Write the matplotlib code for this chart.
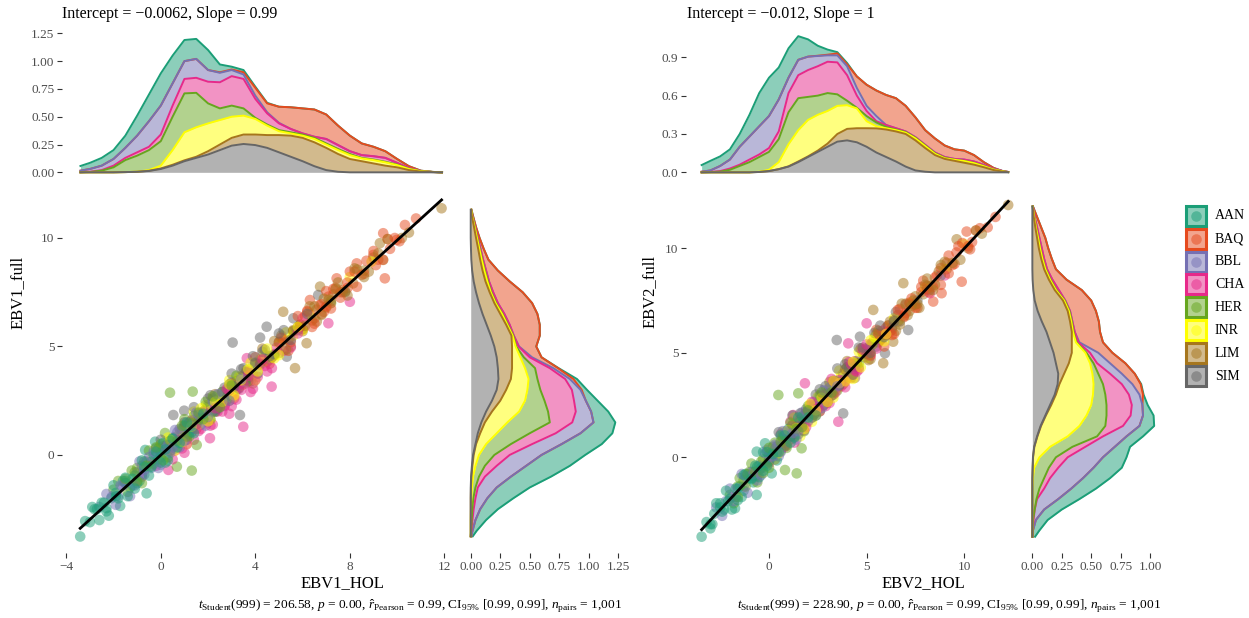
import numpy as np
import matplotlib
matplotlib.use("Agg")
import matplotlib.pyplot as plt
from matplotlib.patches import Rectangle

plt.rcParams["font.family"] = ["Liberation Serif", "DejaVu Serif"]
plt.rcParams["mathtext.fontset"] = "custom"
plt.rcParams["mathtext.rm"] = "Liberation Serif"
plt.rcParams["mathtext.it"] = "Liberation Serif:italic"
plt.rcParams["mathtext.bf"] = "Liberation Serif:bold"

# ---------------------------------------------------------------- breeds
BREEDS = ["AAN", "BAQ", "BBL", "CHA", "HER", "INR", "LIM", "SIM"]
BREED_COLORS = ["#1B9E77", "#E64A1E", "#7570B3", "#E7298A",
                "#66A61E", "#FFFF00", "#A6761D", "#666666"]

# ---------------------------------------------------------------- EBV1 points
AAN_EBV1_HOL = [-3.41, -3.2, -3.0, -2.7, -2.5, -2.3, -2.1, -1.9, -1.72, -1.5, -1.3, -1.1, -0.9,
                -0.66, -0.6, -0.4, -0.24, 0.0, 0.2, 0.4, 0.6, 0.9, 1.2, 1.6, 2.2,
                -2.9, -2.6, -2.4, -2.2, -2.0, -1.8, -1.6, -1.4, -1.2, -1.0, -0.8, -0.5, -0.3, -0.1,
                0.1, 0.3, 0.5, 0.7, 1.0, 1.3,
                -2.8, -2.3, -1.9, -1.5, -1.1, -0.7, -0.4, -0.2, 0.0, 0.2, 0.5, 0.8, 1.1, 1.4, 1.8]
AAN_EBV1_FULL = [-3.76, -3.05, -3.1, -2.5, -2.2, -2.45, -2.0, -1.75, -2.35, -1.3, -1.5, -0.95, -1.2,
                 0.23, -1.77, -0.3, 0.61, 0.1, -0.35, 0.5, 0.3, 0.7, 1.1, 1.8, 2.0,
                 -2.4, -3.0, -2.2, -2.8, -1.4, -2.0, -1.2, -1.9, -1.1, -1.3, -0.25, -0.95, 0.0, -0.2,
                 0.55, -0.25, 0.75, 0.35, 1.35, 1.05,
                 -2.5, -2.6, -1.9, -1.05, -1.55, -0.55, -0.55, 0.15, -0.35, 0.25, 0.75, 0.55, 1.5, 1.0, 1.9]
BAQ_EBV1_HOL = [3.6, 4.3, 4.8, 5.2, 5.6, 5.9, 6.1, 6.31, 6.5, 6.7, 6.9, 7.1, 7.44, 7.6, 7.9,
                8.29, 8.5, 8.99, 9.2, 9.41, 9.48, 9.7, 9.98, 10.33, 10.8,
                4.0, 4.6, 5.0, 5.4, 5.8, 6.0, 6.2, 6.4, 6.6, 6.8, 7.0, 7.2, 7.4, 7.7, 8.0,
                8.3, 8.7, 9.1, 9.6, 10.1,
                5.1, 5.5, 5.9, 6.2, 6.5, 6.8, 7.0, 7.3, 7.6, 7.9, 8.2, 8.6, 9.0, 9.4, 9.9]
BAQ_EBV1_FULL = [3.8, 4.4, 4.6, 5.3, 5.7, 6.0, 6.4, 7.14, 6.3, 6.9, 6.6, 7.3, 8.14, 7.5, 7.7,
                 8.83, 8.3, 9.22, 9.0, 10.22, 8.14, 9.5, 9.91, 10.6, 10.9,
                 4.5, 4.2, 5.2, 4.8, 6.4, 5.8, 6.6, 5.9, 6.7, 6.5, 7.55, 6.75, 7.7, 7.6, 8.45,
                 7.75, 8.95, 8.75, 9.95, 9.85,
                 5.4, 5.2, 5.9, 6.65, 6.05, 6.95, 6.85, 7.65, 7.25, 7.95, 8.45, 8.35, 9.4, 9.0, 10.0]
BBL_EBV1_HOL = [-2.6, -2.07, -1.8, -1.5, -1.2, -1.0, -0.8, -0.6, -0.4, -0.2, 0.0, 0.1, 0.3, 0.5,
                0.7, 0.9, 1.1, 1.4, 1.7, 2.0, 2.4, 2.8, 3.3, 3.9, 4.6,
                -2.3, -1.9, -1.6, -1.3, -0.9, -0.7, -0.5, -0.1, 0.2, 0.4, 0.6, 0.8, 1.0, 1.2,
                1.5, 1.9, 2.2, 2.6, 3.0, 3.6,
                -1.7, -1.1, -0.7, -0.3, 0.0, 0.3, 0.5, 0.7, 1.0, 1.3, 1.6, 2.0, 2.4, 2.9, 3.4]
BBL_EBV1_FULL = [-2.4, -1.92, -1.9, -1.3, -1.4, -0.8, -0.9, -0.3, -0.6, 0.0, -0.1, 0.4, 0.2, 0.8,
                 0.5, 1.2, 0.9, 1.6, 1.4, 2.3, 2.1, 3.0, 3.2, 4.1, 4.4,
                 -1.8, -2.3, -1.4, -1.9, -0.3, -0.9, -0.1, -0.6, 0.3, 0.1, 1.15, 0.35, 1.3, 1.1,
                 1.95, 1.35, 2.45, 2.25, 3.35, 3.35,
                 -1.4, -1.4, -0.7, 0.15, -0.45, 0.45, 0.35, 1.05, 0.65, 1.35, 1.85, 1.75, 2.8, 2.5, 3.5]
CHA_EBV1_HOL = [-0.8, -0.2, 0.32, 0.6, 0.9, 1.2, 1.4, 1.7, 2.0, 2.08, 2.4, 2.7, 2.9, 3.1, 3.3,
                3.49, 3.64, 3.8, 4.1, 4.4, 4.69, 5.2, 6.0, 7.09, 8.0,
                0.2, 0.5, 0.8, 1.0, 1.3, 1.6, 1.9, 2.2, 2.5, 2.6, 2.8, 3.0, 3.2, 3.4, 3.7,
                3.9, 4.2, 4.5, 4.9, 5.5,
                0.7, 1.1, 1.5, 1.8, 2.1, 2.3, 2.7, 2.9, 3.2, 3.5, 3.7, 4.0, 4.3, 4.7, 5.8]
CHA_EBV1_FULL = [-1.0, -0.5, -0.69, 0.2, 0.3, 1.0, 0.7, 1.2, 1.5, 0.77, 2.0, 2.3, 1.9, 2.6, 3.1,
                 1.3, 4.46, 2.9, 3.6, 4.1, 3.15, 4.8, 6.3, 6.07, 7.06,
                 0.4, -0.2, 0.7, 0.1, 1.6, 1.1, 2.0, 1.4, 2.3, 2.0, 3.05, 2.25, 3.2, 3.0, 3.85,
                 3.05, 4.15, 3.85, 4.95, 4.95,
                 0.7, 0.5, 1.2, 1.95, 1.35, 2.15, 2.25, 2.95, 2.55, 3.25, 3.65, 3.45, 4.4, 4.0, 5.6]
HER_EBV1_HOL = [-2.0, -1.5, -1.23, -1.0, -0.7, -0.4, -0.1, 0.18, 0.39, 0.5, 0.68, 0.9, 1.1, 1.31,
                1.35, 1.52, 1.7, 2.0, 2.3, 2.6, 3.0, 3.4, 4.0, 4.8, 5.6,
                -1.8, -1.4, -1.1, -0.8, -0.5, -0.3, 0.0, 0.3, 0.6, 0.8, 1.0, 1.2, 1.4, 1.6,
                1.9, 2.1, 2.4, 2.8, 3.2, 3.7,
                -1.5, -1.0, -0.6, -0.2, 0.1, 0.4, 0.7, 0.9, 1.1, 1.3, 1.6, 1.8, 2.2, 2.5, 3.0]
HER_EBV1_FULL = [-1.6, -1.2, -0.72, -0.6, -0.3, -0.5, 0.3, 1.01, 2.87, 0.4, -0.54, 1.1, 0.9, -0.72,
                 2.92, 0.46, 1.8, 2.2, 2.0, 2.9, 3.2, 3.3, 4.2, 4.6, 5.7,
                 -1.2, -1.7, -0.8, -1.3, 0.2, -0.4, 0.5, -0.1, 0.8, 0.6, 1.65, 0.85, 1.8, 1.6,
                 2.45, 1.65, 2.75, 2.55, 3.65, 3.55,
                 -1.1, -1.2, -0.5, 0.35, -0.25, 0.65, 0.65, 1.35, 0.85, 1.45, 1.95, 1.65, 2.7, 2.2, 3.2]
INR_EBV1_HOL = [-0.5, 0.1, 0.5, 0.8, 1.0, 1.3, 1.5, 1.8, 2.0, 2.3, 2.5, 2.8, 3.0, 3.2, 3.4, 3.6,
                3.9, 4.2, 4.6, 5.0, 5.6, 6.3, 7.2, 8.0, 8.92,
                0.3, 0.6, 0.9, 1.1, 1.4, 1.6, 1.9, 2.1, 2.4, 2.6, 2.9, 3.1, 3.3, 3.5, 3.8,
                4.0, 4.4, 4.8, 5.3, 6.0,
                0.4, 0.9, 1.3, 1.7, 2.0, 2.3, 2.6, 2.9, 3.1, 3.4, 3.7, 4.1, 4.5, 5.0, 5.8]
INR_EBV1_FULL = [-0.3, 0.3, 0.4, 1.0, 0.8, 1.5, 1.2, 2.0, 1.8, 2.5, 2.3, 3.0, 2.7, 3.4, 3.2, 3.9,
                 3.7, 4.4, 4.5, 5.1, 5.5, 6.5, 7.0, 8.2, 8.91,
                 0.8, 0.2, 1.1, 0.5, 2.0, 1.4, 2.3, 1.6, 2.5, 2.3, 3.45, 2.65, 3.6, 3.4, 4.25,
                 3.45, 4.65, 4.45, 5.65, 5.75,
                 0.7, 0.6, 1.3, 2.15, 1.55, 2.45, 2.45, 3.25, 2.75, 3.45, 3.95, 3.85, 4.9, 4.6, 5.9]
LIM_EBV1_HOL = [1.2, 2.0, 2.6, 3.2, 3.6, 4.0, 4.5, 5.0, 5.18, 5.4, 5.68, 5.9, 6.17, 6.4, 6.74,
                7.0, 7.3, 7.7, 8.14, 8.6, 9.0, 9.27, 9.41, 10.2, 11.88,
                2.3, 2.9, 3.4, 3.9, 4.3, 4.7, 5.1, 5.5, 5.8, 6.0, 6.3, 6.6, 6.9, 7.2, 7.5,
                7.9, 8.3, 8.8, 9.6, 10.5,
                3.0, 3.7, 4.2, 4.8, 5.3, 5.6, 6.1, 6.5, 6.8, 7.1, 7.4, 7.8, 8.2, 8.6, 9.2]
LIM_EBV1_FULL = [1.5, 2.2, 2.4, 3.4, 3.3, 4.2, 4.3, 4.7, 6.6, 5.3, 4.0, 6.0, 5.15, 6.2, 7.76,
                 6.8, 7.4, 7.5, 7.91, 8.5, 9.1, 9.76, 8.99, 10.0, 11.37,
                 2.8, 2.5, 3.6, 3.3, 4.9, 4.5, 5.5, 5.0, 5.9, 5.7, 6.85, 6.15, 7.2, 7.1, 7.95,
                 7.35, 8.55, 8.45, 9.95, 10.25,
                 3.3, 3.4, 4.2, 5.25, 4.85, 5.75, 5.95, 6.85, 6.45, 7.15, 7.65, 7.55, 8.6, 8.2, 9.3]
SIM_EBV1_HOL = [-0.8, -0.2, 0.53, 0.99, 1.3, 1.6, 1.9, 2.2, 2.5, 2.7, 3.04, 3.2, 3.35, 3.6, 3.8,
                4.2, 4.48, 4.7, 5.0, 5.33, 5.61, 6.0, 6.66, 7.2, 7.8,
                0.0, 0.4, 0.8, 1.1, 1.4, 1.7, 2.0, 2.3, 2.6, 2.8, 3.0, 3.3, 3.5, 3.7, 3.9,
                4.1, 4.4, 4.8, 5.2, 5.8,
                1.0, 1.5, 1.8, 2.1, 2.4, 2.9, 3.1, 3.4, 3.6, 4.0, 4.3, 4.6, 5.0, 5.5, 6.2]
SIM_EBV1_FULL = [-0.5, 0.3, 1.84, 2.04, 1.2, 1.9, 2.1, 2.6, 2.3, 3.1, 5.18, 3.0, 1.84, 3.8, 3.4,
                 5.41, 5.91, 4.5, 5.2, 4.53, 6.3, 5.8, 7.37, 7.0, 7.5,
                 0.7, 0.2, 1.2, 0.7, 2.2, 1.7, 2.6, 2.0, 2.9, 2.7, 3.75, 3.05, 4.0, 3.8, 4.55,
                 3.75, 4.85, 4.65, 5.75, 5.75,
                 1.5, 1.4, 2.0, 2.75, 2.15, 3.25, 3.15, 3.95, 3.45, 4.25, 4.75, 4.55, 5.6, 5.3, 6.5]

# ---------------------------------------------------------------- EBV2 points
AAN_EBV2_HOL = [-3.45, -3.2, -3.0, -2.8, -2.5, -2.3, -2.0, -1.74, -1.5, -1.3, -1.0, -0.8, -0.63,
                -0.63, -0.4, -0.2, 0.0, 0.14, 0.3, 0.6, 0.9, 1.2, 1.6, 2.1, 2.8,
                -3.0, -2.7, -2.4, -2.2, -1.9, -1.7, -1.4, -1.2, -0.9, -0.7, -0.5, -0.3, -0.1, 0.1,
                0.4, 0.6, 0.8, 1.0, 1.3, 1.7,
                -2.9, -2.5, -2.1, -1.6, -1.3, -0.9, -0.6, -0.3, -0.1, 0.2, 0.5, 0.8, 1.1, 1.5, 2.0]
AAN_EBV2_FULL = [-3.8, -3.1, -3.2, -2.7, -2.4, -2.5, -2.0, -2.44, -1.4, -1.6, -1.0, -1.2, -1.8,
                 0.27, -0.5, 0.67, -0.1, -0.77, 0.4, 0.5, 1.0, 1.1, 1.7, 2.0, 2.7,
                 -3.4, -2.2, -2.6, -1.6, -2.5, -1.5, -1.9, -0.8, -1.0, -0.4, -0.95, 0.25, -0.4, 0.2,
                 -0.15, 1.05, 0.55, 1.35, 0.95, 1.95,
                 -3.2, -2.2, -2.1, -2.05, -0.85, -1.05, -0.45, -0.65, 0.25, 0.15, 0.25, 1.05, 0.7, 1.9, 1.9]
BAQ_EBV2_HOL = [3.8, 4.4, 4.9, 5.3, 5.7, 6.0, 6.3, 6.6, 6.9, 7.2, 7.5, 7.8, 8.1, 8.41, 8.6, 8.84,
                9.1, 9.4, 9.6, 9.87, 10.12, 10.4, 10.8, 11.2, 11.6,
                4.2, 4.7, 5.1, 5.5, 5.9, 6.1, 6.4, 6.7, 7.0, 7.3, 7.6, 7.9, 8.2, 8.5, 8.8,
                9.2, 9.5, 9.9, 10.3, 10.6,
                5.2, 5.6, 6.0, 6.3, 6.6, 6.9, 7.2, 7.5, 7.8, 8.1, 8.4, 8.8, 9.2, 9.7, 10.2]
BAQ_EBV2_FULL = [4.0, 4.6, 5.0, 5.5, 5.6, 6.2, 6.1, 6.8, 6.7, 7.4, 7.3, 7.9, 8.2, 7.45, 8.7, 7.85,
                 9.3, 9.2, 9.8, 8.4, 10.8, 10.3, 10.96, 11.0, 11.5,
                 3.8, 5.2, 4.9, 6.1, 5.3, 6.3, 5.9, 7.1, 6.9, 7.6, 7.15, 8.45, 7.9, 8.6, 8.25,
                 9.65, 9.25, 10.25, 9.95, 10.85,
                 4.9, 5.9, 6.0, 5.85, 7.05, 6.75, 7.35, 7.15, 8.15, 8.05, 8.15, 9.05, 8.8, 10.1, 10.1]
BBL_EBV2_HOL = [-2.7, -2.2, -1.9, -1.6, -1.3, -1.0, -0.8, -0.5, -0.3, 0.0, 0.2, 0.4, 0.6, 0.8,
                1.0, 1.2, 1.5, 1.8, 2.1, 2.5, 2.9, 3.3, 3.8, 4.3, 5.0,
                -2.4, -2.0, -1.7, -1.4, -1.1, -0.9, -0.6, -0.2, 0.1, 0.3, 0.5, 0.7, 0.9, 1.1,
                1.4, 1.7, 2.0, 2.3, 2.7, 3.1,
                -1.8, -1.2, -0.8, -0.4, -0.1, 0.2, 0.4, 0.6, 0.9, 1.2, 1.5, 1.9, 2.4, 2.8, 3.5]
BBL_EBV2_FULL = [-2.4, -2.1, -1.9, -1.5, -1.4, -0.9, -0.7, -0.4, -0.5, 0.1, 0.0, 0.5, 0.4, 0.9,
                 1.1, 1.0, 1.6, 1.7, 2.2, 2.4, 3.0, 3.1, 3.9, 4.2, 5.1,
                 -2.8, -1.5, -1.9, -0.8, -1.7, -0.7, -1.1, 0.2, 0.0, 0.6, 0.05, 1.25, 0.6, 1.2,
                 0.85, 2.15, 1.75, 2.65, 2.35, 3.35,
                 -2.1, -0.9, -0.8, -0.85, 0.35, 0.05, 0.55, 0.25, 1.25, 1.15, 1.25, 2.15, 2.0, 3.2, 3.4]
CHA_EBV2_HOL = [-0.6, 0.0, 0.4, 0.7, 1.0, 1.24, 1.5, 1.84, 2.0, 2.3, 2.6, 2.9, 3.1, 3.3, 3.55,
                3.7, 4.06, 4.3, 4.6, 5.0, 5.5, 6.2, 7.0, 8.24, 9.0,
                0.3, 0.6, 0.9, 1.1, 1.3, 1.6, 1.8, 2.1, 2.4, 2.7, 2.9, 3.2, 3.4, 3.6, 3.9,
                4.1, 4.4, 4.8, 5.2, 5.8,
                0.8, 1.2, 1.5, 1.9, 2.2, 2.5, 2.8, 3.0, 3.3, 3.6, 3.9, 4.2, 4.5, 5.0, 6.0]
CHA_EBV2_FULL = [-0.9, -0.3, 0.2, 0.9, 0.8, 2.02, 1.3, 3.54, 1.7, 2.5, 2.2, 3.0, 2.6, 3.5, 1.7,
                 3.4, 5.45, 4.0, 4.2, 6.41, 5.2, 6.0, 7.3, 7.85, 8.7,
                 -0.1, 1.1, 0.7, 1.7, 0.7, 1.8, 1.3, 2.5, 2.3, 3.0, 2.45, 3.75, 3.1, 3.7, 3.35,
                 4.55, 4.15, 5.15, 4.85, 6.05,
                 0.5, 1.5, 1.5, 1.45, 2.65, 2.35, 2.95, 2.65, 3.65, 3.55, 3.65, 4.45, 4.1, 5.4, 5.9]
HER_EBV2_HOL = [-2.0, -1.6, -1.3, -1.0, -0.7, -0.4, -0.1, 0.2, 0.48, 0.6, 0.82, 1.0, 1.2, 1.42,
                1.5, 1.67, 1.9, 2.2, 2.5, 2.8, 3.1, 3.5, 4.0, 4.6, 5.3,
                -1.8, -1.5, -1.2, -0.9, -0.6, -0.3, 0.0, 0.3, 0.5, 0.7, 0.9, 1.1, 1.3, 1.6,
                1.8, 2.0, 2.3, 2.6, 3.0, 3.4,
                -1.6, -1.1, -0.7, -0.3, 0.0, 0.4, 0.6, 0.9, 1.2, 1.4, 1.7, 2.0, 2.4, 2.7, 3.2]
HER_EBV2_FULL = [-1.8, -1.4, -1.1, -0.7, -0.9, -0.2, -0.3, 0.5, 2.98, 0.3, -0.61, 1.2, 0.9, -0.77,
                 3.06, 0.43, 2.1, 1.9, 2.6, 2.5, 3.3, 3.2, 4.3, 4.5, 5.4,
                 -2.2, -1.0, -1.4, -0.3, -1.2, -0.1, -0.5, 0.7, 0.4, 1.0, 0.45, 1.65, 1.0, 1.7,
                 1.25, 2.45, 2.05, 2.95, 2.65, 3.65,
                 -1.9, -0.8, -0.7, -0.75, 0.45, 0.25, 0.75, 0.55, 1.55, 1.35, 1.45, 2.25, 2.0, 3.1, 3.1]
INR_EBV2_HOL = [0.0, 0.5, 0.9, 1.2, 1.5, 1.8, 2.1, 2.4, 2.7, 3.0, 3.2, 3.5, 3.7, 4.0, 4.2, 4.5,
                4.8, 5.2, 5.6, 6.1, 6.7, 7.3, 8.0, 9.0, 10.0,
                0.3, 0.7, 1.0, 1.3, 1.6, 1.9, 2.2, 2.5, 2.8, 3.1, 3.3, 3.6, 3.9, 4.1, 4.3,
                4.6, 5.0, 5.4, 5.9, 6.4,
                0.5, 1.0, 1.4, 1.8, 2.1, 2.4, 2.7, 3.0, 3.3, 3.6, 3.9, 4.3, 4.7, 5.2, 6.0]
INR_EBV2_FULL = [0.2, 0.4, 1.1, 1.0, 1.7, 1.6, 2.3, 2.2, 2.9, 2.8, 3.4, 3.3, 3.9, 3.8, 4.4, 4.3,
                 5.0, 5.0, 5.8, 5.9, 6.6, 7.4, 8.1, 9.0, 10.2,
                 -0.1, 1.2, 0.8, 1.9, 1.0, 2.1, 1.7, 2.9, 2.7, 3.4, 2.85, 4.15, 3.6, 4.2, 3.75,
                 5.05, 4.75, 5.75, 5.55, 6.65,
                 0.2, 1.3, 1.4, 1.35, 2.55, 2.25, 2.85, 2.65, 3.65, 3.55, 3.65, 4.55, 4.3, 5.6, 5.9]
LIM_EBV2_HOL = [1.5, 2.3, 2.9, 3.4, 3.8, 4.2, 4.6, 5.0, 5.34, 5.6, 5.85, 6.1, 6.36, 6.6, 6.88,
                7.2, 7.5, 7.9, 8.3, 8.7, 9.1, 9.61, 10.2, 10.9, 12.25,
                2.6, 3.1, 3.6, 4.0, 4.4, 4.8, 5.2, 5.5, 5.8, 6.2, 6.5, 6.8, 7.1, 7.4, 7.7,
                8.1, 8.5, 9.0, 9.8, 10.6,
                3.3, 3.9, 4.5, 5.1, 5.6, 6.0, 6.4, 6.7, 7.0, 7.3, 7.6, 8.0, 8.4, 8.8, 9.4]
LIM_EBV2_FULL = [1.6, 2.4, 2.7, 3.6, 3.5, 4.4, 4.3, 5.2, 7.05, 5.5, 4.5, 6.3, 5.53, 6.5, 8.33,
                 7.0, 7.7, 7.8, 8.2, 8.9, 9.0, 10.43, 10.0, 10.7, 12.07,
                 2.2, 3.6, 3.4, 4.6, 3.8, 5.0, 4.7, 5.9, 5.7, 6.5, 6.05, 7.35, 6.8, 7.5, 7.15,
                 8.55, 8.25, 9.35, 9.45, 10.85,
                 3.0, 4.2, 4.5, 4.65, 6.05, 5.85, 6.55, 6.35, 7.35, 7.25, 7.35, 8.25, 8.0, 9.2, 9.3]
SIM_EBV2_HOL = [-0.5, 0.2, 0.8, 1.3, 1.7, 2.1, 2.5, 2.8, 3.1, 3.47, 3.8, 3.9, 4.2, 4.5, 4.66,
                4.9, 5.2, 5.5, 5.94, 6.3, 6.7, 7.13, 7.6, 8.2, 8.8,
                0.0, 0.5, 0.9, 1.2, 1.5, 1.9, 2.2, 2.4, 2.7, 2.9, 3.2, 3.5, 3.7, 4.0, 4.3,
                4.6, 5.0, 5.4, 5.9, 6.5,
                1.1, 1.6, 2.0, 2.3, 2.6, 3.0, 3.3, 3.6, 3.9, 4.1, 4.4, 4.8, 5.2, 5.7, 6.4]
SIM_EBV2_FULL = [-0.6, 0.1, 0.7, 1.4, 1.6, 2.1, 2.6, 2.5, 3.2, 5.61, 2.1, 3.8, 4.3, 4.6, 5.77,
                 4.8, 5.4, 5.3, 4.98, 6.2, 6.5, 6.09, 7.5, 8.0, 8.7,
                 -0.2, 1.2, 0.9, 2.0, 1.1, 2.3, 1.9, 3.0, 2.8, 3.4, 2.95, 4.25, 3.6, 4.3, 3.95,
                 5.25, 4.95, 5.95, 5.75, 6.95,
                 1.0, 2.1, 2.2, 2.05, 3.25, 3.05, 3.65, 3.45, 4.45, 4.25, 4.35, 5.25, 5.0, 6.3, 6.5]

# ---------------------------------------------------------------- fit summaries
EBV1_INTERCEPT, EBV1_SLOPE = -0.0062, 0.99
EBV2_INTERCEPT, EBV2_SLOPE = -0.012, 1.0

# ---------------------------------------------------------------- stacked densities
# upper edge of each breed's band in the stack (bottom SIM ... top AAN)
EBV1_HOL_GRID = [-3.4, -3.0, -2.5, -2.0, -1.5, -1.0, -0.5, 0.0, 0.5, 1.0, 1.5, 2.0, 2.5, 3.0, 3.5,
                 4.0, 4.5, 5.0, 5.5, 6.0, 6.5, 7.0, 7.5, 8.0, 8.5, 9.0, 9.5, 10.0, 10.5, 11.0, 11.5, 11.9]
EBV1_HOL_SIM = [0, 0, 0, 0, 0.002, 0.005, 0.012, 0.03, 0.06, 0.1, 0.13, 0.16, 0.2, 0.24, 0.255, 0.245,
                0.22, 0.18, 0.14, 0.1, 0.055, 0.02, 0.005, 0, 0, 0, 0, 0, 0, 0, 0, 0]
EBV1_HOL_LIM = [0, 0, 0, 0, 0.002, 0.005, 0.014, 0.035, 0.068, 0.108, 0.14, 0.19, 0.25, 0.31, 0.34, 0.34,
                0.335, 0.335, 0.33, 0.31, 0.27, 0.22, 0.165, 0.12, 0.1, 0.08, 0.06, 0.045, 0.02, 0.007, 0.002, 0]
EBV1_HOL_INR = [0, 0, 0, 0, 0.002, 0.006, 0.02, 0.06, 0.2, 0.36, 0.405, 0.44, 0.47, 0.5, 0.51, 0.48,
                0.42, 0.37, 0.35, 0.33, 0.3, 0.25, 0.2, 0.155, 0.125, 0.11, 0.09, 0.065, 0.03, 0.01, 0.003, 0]
EBV1_HOL_HER = [0, 0.003, 0.015, 0.045, 0.11, 0.15, 0.2, 0.28, 0.5, 0.71, 0.715, 0.62, 0.575, 0.6, 0.575, 0.49,
                0.43, 0.38, 0.36, 0.34, 0.31, 0.26, 0.21, 0.165, 0.13, 0.115, 0.095, 0.07, 0.032, 0.011, 0.003, 0]
EBV1_HOL_CHA = [0, 0.005, 0.02, 0.06, 0.13, 0.18, 0.23, 0.34, 0.6, 0.84, 0.85, 0.815, 0.81, 0.865, 0.84, 0.66,
                0.53, 0.44, 0.39, 0.35, 0.32, 0.3, 0.245, 0.19, 0.155, 0.145, 0.13, 0.085, 0.038, 0.012, 0.003, 0]
EBV1_HOL_BBL = [0.015, 0.03, 0.06, 0.12, 0.22, 0.33, 0.46, 0.6, 0.8, 1.0, 1.02, 0.92, 0.895, 0.92, 0.88, 0.69,
                0.54, 0.445, 0.39, 0.35, 0.32, 0.3, 0.245, 0.19, 0.155, 0.145, 0.13, 0.085, 0.038, 0.012, 0.003, 0]
EBV1_HOL_BAQ = [0.015, 0.03, 0.06, 0.12, 0.22, 0.33, 0.46, 0.6, 0.8, 1.0, 1.02, 0.92, 0.9, 0.925, 0.9, 0.76,
                0.62, 0.59, 0.585, 0.575, 0.565, 0.52, 0.42, 0.33, 0.26, 0.23, 0.19, 0.12, 0.055, 0.015, 0.004, 0]
EBV1_HOL_AAN = [0.057, 0.085, 0.13, 0.2, 0.33, 0.51, 0.7, 0.89, 1.05, 1.19, 1.2, 1.1, 0.97, 0.95, 0.92, 0.77,
                0.625, 0.59, 0.585, 0.575, 0.565, 0.52, 0.42, 0.33, 0.26, 0.23, 0.19, 0.12, 0.055, 0.015, 0.004, 0]

EBV1_FULL_GRID = [-3.75, -3.5, -3.0, -2.5, -2.0, -1.5, -1.0, -0.5, 0.0, 0.5, 1.0, 1.5, 2.0, 2.5, 3.0, 3.5,
                  4.0, 4.5, 5.0, 5.5, 6.0, 6.5, 7.0, 7.5, 8.0, 8.5, 9.0, 9.5, 10.0, 10.5, 11.0, 11.3]
EBV1_FULL_SIM = [0, 0, 0, 0, 0, 0, 0.003, 0.01, 0.02, 0.04, 0.06, 0.09, 0.13, 0.18, 0.22, 0.235,
                 0.23, 0.22, 0.2, 0.17, 0.135, 0.1, 0.07, 0.045, 0.025, 0.012, 0.005, 0.002, 0, 0, 0, 0]
EBV1_FULL_LIM = [0, 0, 0, 0, 0, 0.002, 0.006, 0.014, 0.025, 0.045, 0.08, 0.12, 0.18, 0.25, 0.3, 0.34,
                 0.35, 0.35, 0.35, 0.345, 0.3, 0.25, 0.2, 0.16, 0.125, 0.1, 0.08, 0.063, 0.045, 0.028, 0.01, 0.003]
EBV1_FULL_INR = [0, 0, 0, 0.002, 0.005, 0.01, 0.02, 0.04, 0.07, 0.13, 0.22, 0.31, 0.41, 0.46, 0.48, 0.49,
                 0.46, 0.42, 0.38, 0.355, 0.31, 0.265, 0.21, 0.17, 0.14, 0.115, 0.093, 0.073, 0.053, 0.033, 0.012, 0.004]
EBV1_FULL_HER = [0, 0.003, 0.008, 0.013, 0.022, 0.04, 0.07, 0.12, 0.2, 0.34, 0.5, 0.67, 0.655, 0.625, 0.59, 0.565,
                 0.545, 0.45, 0.385, 0.36, 0.315, 0.27, 0.215, 0.175, 0.145, 0.12, 0.097, 0.076, 0.055, 0.034, 0.013, 0.004]
EBV1_FULL_CHA = [0, 0.005, 0.015, 0.025, 0.04, 0.06, 0.12, 0.22, 0.33, 0.52, 0.72, 0.86, 0.89, 0.875, 0.857, 0.8,
                 0.67, 0.5, 0.405, 0.365, 0.33, 0.285, 0.23, 0.19, 0.155, 0.13, 0.105, 0.083, 0.06, 0.037, 0.014, 0.004]
EBV1_FULL_BBL = [0.005, 0.015, 0.04, 0.08, 0.14, 0.22, 0.34, 0.47, 0.6, 0.77, 0.93, 1.04, 1.02, 0.975, 0.93, 0.84,
                 0.7, 0.52, 0.41, 0.365, 0.33, 0.285, 0.23, 0.19, 0.155, 0.13, 0.105, 0.083, 0.06, 0.037, 0.014, 0.004]
EBV1_FULL_BAQ = [0.005, 0.015, 0.04, 0.08, 0.14, 0.22, 0.34, 0.47, 0.6, 0.77, 0.93, 1.04, 1.02, 0.975, 0.94, 0.87,
                 0.74, 0.6, 0.555, 0.585, 0.585, 0.565, 0.52, 0.44, 0.33, 0.23, 0.15, 0.11, 0.075, 0.045, 0.02, 0.006]
EBV1_FULL_AAN = [0.017, 0.05, 0.13, 0.23, 0.36, 0.5, 0.68, 0.84, 0.97, 1.11, 1.2, 1.225, 1.165, 1.075, 0.985, 0.9,
                 0.745, 0.6, 0.555, 0.585, 0.585, 0.565, 0.52, 0.44, 0.33, 0.23, 0.15, 0.11, 0.075, 0.045, 0.02, 0.006]

EBV2_HOL_GRID = [-3.45, -3.0, -2.5, -2.0, -1.5, -1.0, -0.5, 0.0, 0.5, 1.0, 1.5, 2.0, 2.5, 3.0, 3.5, 4.0, 4.5,
                 5.0, 5.5, 6.0, 6.5, 7.0, 7.5, 8.0, 8.5, 9.0, 9.5, 10.0, 10.5, 11.0, 11.5, 12.0, 12.25]
EBV2_HOL_SIM = [0, 0, 0, 0, 0, 0, 0.003, 0.01, 0.025, 0.045, 0.08, 0.12, 0.16, 0.2, 0.24, 0.25, 0.235,
                0.2, 0.155, 0.12, 0.085, 0.045, 0.015, 0.005, 0, 0, 0, 0, 0, 0, 0, 0, 0]
EBV2_HOL_LIM = [0, 0, 0, 0, 0, 0, 0.003, 0.01, 0.025, 0.047, 0.085, 0.125, 0.17, 0.225, 0.3, 0.34, 0.345,
                0.345, 0.344, 0.335, 0.32, 0.3, 0.25, 0.19, 0.135, 0.105, 0.09, 0.075, 0.06, 0.04, 0.018, 0.005, 0.002]
EBV2_HOL_INR = [0, 0, 0, 0, 0, 0, 0.005, 0.02, 0.08, 0.22, 0.33, 0.41, 0.45, 0.48, 0.52, 0.525, 0.5,
                0.4, 0.36, 0.345, 0.33, 0.31, 0.265, 0.205, 0.145, 0.11, 0.098, 0.088, 0.072, 0.048, 0.022, 0.007, 0.002]
EBV2_HOL_HER = [0, 0.002, 0.006, 0.02, 0.05, 0.08, 0.12, 0.16, 0.26, 0.47, 0.58, 0.59, 0.6, 0.62, 0.61, 0.56, 0.505,
                0.44, 0.39, 0.355, 0.335, 0.315, 0.27, 0.21, 0.15, 0.114, 0.1, 0.09, 0.075, 0.05, 0.023, 0.007, 0.002]
EBV2_HOL_CHA = [0, 0.003, 0.01, 0.03, 0.06, 0.1, 0.14, 0.19, 0.32, 0.62, 0.76, 0.8, 0.83, 0.865, 0.86, 0.76, 0.6,
                0.48, 0.4, 0.37, 0.345, 0.32, 0.275, 0.215, 0.155, 0.12, 0.105, 0.1, 0.085, 0.058, 0.028, 0.009, 0.003]
EBV2_HOL_BBL = [0.005, 0.015, 0.05, 0.1, 0.2, 0.28, 0.36, 0.44, 0.57, 0.74, 0.88, 0.905, 0.91, 0.915, 0.915, 0.83, 0.66,
                0.52, 0.44, 0.37, 0.345, 0.32, 0.275, 0.215, 0.155, 0.12, 0.105, 0.1, 0.085, 0.058, 0.028, 0.009, 0.003]
EBV2_HOL_BAQ = [0.005, 0.015, 0.05, 0.1, 0.2, 0.28, 0.36, 0.44, 0.57, 0.74, 0.88, 0.905, 0.912, 0.92, 0.93, 0.845, 0.75,
                0.685, 0.64, 0.605, 0.58, 0.52, 0.43, 0.33, 0.265, 0.21, 0.18, 0.17, 0.135, 0.08, 0.035, 0.008, 0.003]
EBV2_HOL_AAN = [0.057, 0.09, 0.125, 0.18, 0.3, 0.45, 0.62, 0.74, 0.82, 0.97, 1.065, 1.04, 0.99, 0.96, 0.94, 0.855, 0.75,
                0.685, 0.64, 0.605, 0.58, 0.52, 0.43, 0.33, 0.265, 0.21, 0.18, 0.17, 0.135, 0.08, 0.035, 0.008, 0.003]

EBV2_FULL_GRID = [-3.8, -3.5, -3.0, -2.5, -2.0, -1.5, -1.0, -0.5, 0.0, 0.5, 1.0, 1.5, 2.0, 2.5, 3.0, 3.5, 4.0,
                  4.5, 5.0, 5.5, 6.0, 6.5, 7.0, 7.5, 8.0, 8.5, 9.0, 9.5, 10.0, 10.5, 11.0, 11.5, 12.0]
EBV2_FULL_SIM = [0, 0, 0, 0, 0, 0, 0, 0.002, 0.005, 0.015, 0.04, 0.07, 0.11, 0.15, 0.19, 0.215, 0.22,
                 0.2, 0.18, 0.15, 0.12, 0.08, 0.045, 0.02, 0.008, 0.002, 0, 0, 0, 0, 0, 0, 0]
EBV2_FULL_LIM = [0, 0, 0, 0, 0, 0, 0, 0.003, 0.006, 0.017, 0.043, 0.074, 0.115, 0.16, 0.2, 0.23, 0.27,
                 0.31, 0.335, 0.335, 0.335, 0.32, 0.3, 0.26, 0.19, 0.14, 0.1, 0.075, 0.055, 0.04, 0.025, 0.012, 0.002]
EBV2_FULL_INR = [0, 0, 0, 0, 0, 0, 0.005, 0.015, 0.06, 0.15, 0.3, 0.4, 0.46, 0.5, 0.515, 0.52, 0.51,
                 0.49, 0.45, 0.37, 0.345, 0.33, 0.31, 0.27, 0.2, 0.15, 0.11, 0.085, 0.065, 0.048, 0.03, 0.015, 0.003]
EBV2_FULL_HER = [0, 0.001, 0.005, 0.02, 0.035, 0.06, 0.1, 0.14, 0.2, 0.34, 0.55, 0.62, 0.63, 0.63, 0.62, 0.6, 0.56,
                 0.52, 0.46, 0.375, 0.35, 0.335, 0.315, 0.275, 0.205, 0.155, 0.113, 0.088, 0.067, 0.05, 0.031, 0.016, 0.003]
EBV2_FULL_CHA = [0, 0.002, 0.01, 0.02, 0.04, 0.1, 0.15, 0.22, 0.3, 0.45, 0.6, 0.77, 0.835, 0.845, 0.82, 0.76, 0.66,
                 0.55, 0.49, 0.39, 0.36, 0.34, 0.32, 0.28, 0.225, 0.17, 0.125, 0.1, 0.08, 0.06, 0.04, 0.02, 0.005]
EBV2_FULL_BBL = [0.002, 0.005, 0.03, 0.1, 0.22, 0.33, 0.43, 0.52, 0.6, 0.7, 0.8, 0.91, 0.94, 0.935, 0.91, 0.85, 0.76,
                 0.66, 0.56, 0.4, 0.36, 0.34, 0.32, 0.28, 0.225, 0.17, 0.125, 0.1, 0.08, 0.06, 0.04, 0.02, 0.005]
EBV2_FULL_BAQ = [0.002, 0.005, 0.03, 0.1, 0.22, 0.33, 0.43, 0.52, 0.6, 0.7, 0.8, 0.91, 0.94, 0.935, 0.94, 0.92, 0.87,
                 0.79, 0.68, 0.6, 0.575, 0.565, 0.54, 0.5, 0.42, 0.29, 0.2, 0.165, 0.135, 0.11, 0.075, 0.04, 0.005]
EBV2_FULL_AAN = [0.023, 0.06, 0.13, 0.25, 0.4, 0.54, 0.66, 0.76, 0.8, 0.83, 0.94, 1.035, 1.03, 0.98, 0.945, 0.925, 0.87,
                 0.79, 0.68, 0.6, 0.575, 0.565, 0.54, 0.5, 0.42, 0.29, 0.2, 0.165, 0.135, 0.11, 0.075, 0.04, 0.005]

# ---------------------------------------------------------------- texts
TITLE_1 = "Intercept = \u22120.0062, Slope = 0.99"
TITLE_2 = "Intercept = \u22120.012, Slope = 1"
CAPTION_1 = (r"$t_{\mathrm{Student}}$(999) = 206.58, $p$ = 0.00, $\hat{r}_{\mathrm{Pearson}}$ = 0.99, "
             r"CI$_{95\%}$ [0.99, 0.99], $n_{\mathrm{pairs}}$ = 1,001")
CAPTION_2 = (r"$t_{\mathrm{Student}}$(999) = 228.90, $p$ = 0.00, $\hat{r}_{\mathrm{Pearson}}$ = 0.99, "
             r"CI$_{95\%}$ [0.99, 0.99], $n_{\mathrm{pairs}}$ = 1,001")

# ---------------------------------------------------------------- drawing
W, H = 1249, 618
fig = plt.figure(figsize=(W / 100, H / 100), dpi=100)
fig.patch.set_facecolor("white")
TICK_COLOR = "#333333"
LABEL_COLOR = "#4D4D4D"
COLOR_OF = dict(zip(BREEDS, BREED_COLORS))


def px_axes(left, top, right, bottom):
    return fig.add_axes([left / W, 1 - bottom / H, (right - left) / W, (bottom - top) / H])


def style(ax, xticks=True, yticks=True):
    for s in ax.spines.values():
        s.set_visible(False)
    ax.set_facecolor("none")
    ax.tick_params(axis="both", colors=TICK_COLOR, labelcolor=LABEL_COLOR, labelsize=9.5,
                   length=3.5, width=0.8, pad=2)
    if not xticks:
        ax.tick_params(axis="x", bottom=False, labelbottom=False)
    if not yticks:
        ax.tick_params(axis="y", left=False, labelleft=False)


def fmt_minus(v, nd):
    s = f"{v:.{nd}f}"
    return s.replace("-", "\u2212")


def draw_stack(ax, grid, edges, vertical=False):
    # edges: bottom-to-top list of (breed, upper edge)
    grid = np.asarray(grid, float)
    lower = np.zeros_like(grid)
    bands = []
    for breed, upper in edges:
        upper = np.asarray(upper, float)
        bands.append((breed, lower, upper))
        lower = upper
    # top of the stack first, so lower outlines end up on top
    for breed, lo, hi in reversed(bands):
        c = COLOR_OF[breed]
        if vertical:
            ax.fill_betweenx(grid, lo, hi, color=c, alpha=0.5, lw=0)
            ax.plot(hi, grid, color=c, lw=1.4, solid_joinstyle="round")
        else:
            ax.fill_between(grid, lo, hi, color=c, alpha=0.5, lw=0)
            ax.plot(grid, hi, color=c, lw=1.4, solid_joinstyle="round")


def draw_scatter(ax, xs, ys, intercept, slope):
    px, py, pc = [], [], []
    n = max(len(v) for v in xs.values())
    for i in range(n):
        for b in BREEDS:
            if i < len(xs[b]):
                px.append(xs[b][i]); py.append(ys[b][i]); pc.append(COLOR_OF[b])
    ax.scatter(px, py, s=58, c=pc, alpha=0.5, linewidths=0, zorder=2)
    xr = np.array([min(px), max(px)])
    ax.plot(xr, intercept + slope * xr, color="black", lw=2.0, zorder=3)


panels = [
    dict(
        xs={"AAN": AAN_EBV1_HOL, "BAQ": BAQ_EBV1_HOL, "BBL": BBL_EBV1_HOL, "CHA": CHA_EBV1_HOL,
            "HER": HER_EBV1_HOL, "INR": INR_EBV1_HOL, "LIM": LIM_EBV1_HOL, "SIM": SIM_EBV1_HOL},
        ys={"AAN": AAN_EBV1_FULL, "BAQ": BAQ_EBV1_FULL, "BBL": BBL_EBV1_FULL, "CHA": CHA_EBV1_FULL,
            "HER": HER_EBV1_FULL, "INR": INR_EBV1_FULL, "LIM": LIM_EBV1_FULL, "SIM": SIM_EBV1_FULL},
        fit=(EBV1_INTERCEPT, EBV1_SLOPE),
        top=(EBV1_HOL_GRID, [("SIM", EBV1_HOL_SIM), ("LIM", EBV1_HOL_LIM), ("INR", EBV1_HOL_INR),
                             ("HER", EBV1_HOL_HER), ("CHA", EBV1_HOL_CHA), ("BBL", EBV1_HOL_BBL),
                             ("BAQ", EBV1_HOL_BAQ), ("AAN", EBV1_HOL_AAN)]),
        right=(EBV1_FULL_GRID, [("SIM", EBV1_FULL_SIM), ("LIM", EBV1_FULL_LIM), ("INR", EBV1_FULL_INR),
                                ("HER", EBV1_FULL_HER), ("CHA", EBV1_FULL_CHA), ("BBL", EBV1_FULL_BBL),
                                ("BAQ", EBV1_FULL_BAQ), ("AAN", EBV1_FULL_AAN)]),
        main_px=(62, 192, 460, 553), top_px=(30, 179), right_px=(464, 623),
        xlim=(-4.18, 12.66), ylim=(-4.52, 12.12), top_ylim=(-0.060, 1.28), right_xlim=(-0.057, 1.29),
        xticks=[-4, 0, 4, 8, 12], yticks=[0, 5, 10],
        top_ticks=[0, 0.25, 0.5, 0.75, 1.0, 1.25], top_nd=2,
        right_ticks=[0, 0.25, 0.5, 0.75, 1.0, 1.25],
        xlabel="EBV1_HOL", ylabel="EBV1_full", xlabel_x=342, ylabel_x=18,
        title=TITLE_1, title_x=62, caption=CAPTION_1, caption_x=622,
    ),
    dict(
        xs={"AAN": AAN_EBV2_HOL, "BAQ": BAQ_EBV2_HOL, "BBL": BBL_EBV2_HOL, "CHA": CHA_EBV2_HOL,
            "HER": HER_EBV2_HOL, "INR": INR_EBV2_HOL, "LIM": LIM_EBV2_HOL, "SIM": SIM_EBV2_HOL},
        ys={"AAN": AAN_EBV2_FULL, "BAQ": BAQ_EBV2_FULL, "BBL": BBL_EBV2_FULL, "CHA": CHA_EBV2_FULL,
            "HER": HER_EBV2_FULL, "INR": INR_EBV2_FULL, "LIM": LIM_EBV2_FULL, "SIM": SIM_EBV2_FULL},
        fit=(EBV2_INTERCEPT, EBV2_SLOPE),
        top=(EBV2_HOL_GRID, [("SIM", EBV2_HOL_SIM), ("LIM", EBV2_HOL_LIM), ("INR", EBV2_HOL_INR),
                             ("HER", EBV2_HOL_HER), ("CHA", EBV2_HOL_CHA), ("BBL", EBV2_HOL_BBL),
                             ("BAQ", EBV2_HOL_BAQ), ("AAN", EBV2_HOL_AAN)]),
        right=(EBV2_FULL_GRID, [("SIM", EBV2_FULL_SIM), ("LIM", EBV2_FULL_LIM), ("INR", EBV2_FULL_INR),
                                ("HER", EBV2_FULL_HER), ("CHA", EBV2_FULL_CHA), ("BBL", EBV2_FULL_BBL),
                                ("BAQ", EBV2_FULL_BAQ), ("AAN", EBV2_FULL_AAN)]),
        main_px=(686, 188.5, 1024, 553), top_px=(29, 179), right_px=(1026, 1161),
        xlim=(-4.25, 13.06), ylim=(-4.58, 12.86), top_ylim=(-0.052, 1.121), right_xlim=(-0.054, 1.093),
        xticks=[0, 5, 10], yticks=[0, 5, 10],
        top_ticks=[0, 0.3, 0.6, 0.9], top_nd=1,
        right_ticks=[0, 0.25, 0.5, 0.75, 1.0],
        xlabel="EBV2_HOL", ylabel="EBV2_full", xlabel_x=923, ylabel_x=650,
        title=TITLE_2, title_x=687, caption=CAPTION_2, caption_x=1161,
    ),
]

for p in panels:
    l, t, r, b = p["main_px"]
    ax = px_axes(l, t, r, b)
    style(ax)
    draw_scatter(ax, p["xs"], p["ys"], *p["fit"])
    ax.set_xlim(*p["xlim"]); ax.set_ylim(*p["ylim"])
    ax.set_xticks(p["xticks"]); ax.set_xticklabels([fmt_minus(v, 0) for v in p["xticks"]])
    ax.set_yticks(p["yticks"]); ax.set_yticklabels([fmt_minus(v, 0) for v in p["yticks"]])

    # marginal density above
    tt, tb = p["top_px"]
    axt = px_axes(l, tt, r, tb)
    style(axt, xticks=False)
    draw_stack(axt, p["top"][0], p["top"][1])
    axt.set_xlim(*p["xlim"]); axt.set_ylim(*p["top_ylim"])
    axt.set_yticks(p["top_ticks"])
    axt.set_yticklabels([f"{v:.{p['top_nd']}f}" for v in p["top_ticks"]])

    # marginal density on the right
    rl, rr = p["right_px"]
    axr = px_axes(rl, t, rr, b)
    style(axr, yticks=False)
    draw_stack(axr, p["right"][0], p["right"][1], vertical=True)
    axr.set_ylim(*p["ylim"]); axr.set_xlim(*p["right_xlim"])
    axr.set_xticks(p["right_ticks"])
    axr.set_xticklabels([f"{v:.2f}" for v in p["right_ticks"]])

    fig.text(p["xlabel_x"] / W, 1 - 583 / H, p["xlabel"], ha="center", va="center", fontsize=12)
    fig.text(p["ylabel_x"] / W, 1 - 292 / H, p["ylabel"], ha="center", va="center",
             rotation=90, fontsize=12)
    fig.text(p["title_x"] / W, 1 - 14 / H, p["title"], ha="left", va="center", fontsize=11.5)
    fig.text(p["caption_x"] / W, 1 - 606 / H, p["caption"], ha="right", va="center", fontsize=9.6)

# legend
lg = fig.add_axes([0, 0, 1, 1])
lg.set_xlim(0, W); lg.set_ylim(H, 0); lg.axis("off")
for i, (b, c) in enumerate(zip(BREEDS, BREED_COLORS)):
    cy = 215.7 + 22.9 * i
    lg.add_patch(Rectangle((1186.5, cy - 10), 20, 20, facecolor=c, alpha=0.5, lw=0))
    lg.add_patch(Rectangle((1186.5, cy - 10), 20, 20, facecolor="none", edgecolor=c, lw=2.2))
    lg.scatter([1196.5], [cy], s=58, color=c, alpha=0.5, linewidths=0)
    lg.text(1215, cy, b, ha="left", va="center", fontsize=10, color="black")

fig.savefig("out.png", dpi=100, facecolor="white")
